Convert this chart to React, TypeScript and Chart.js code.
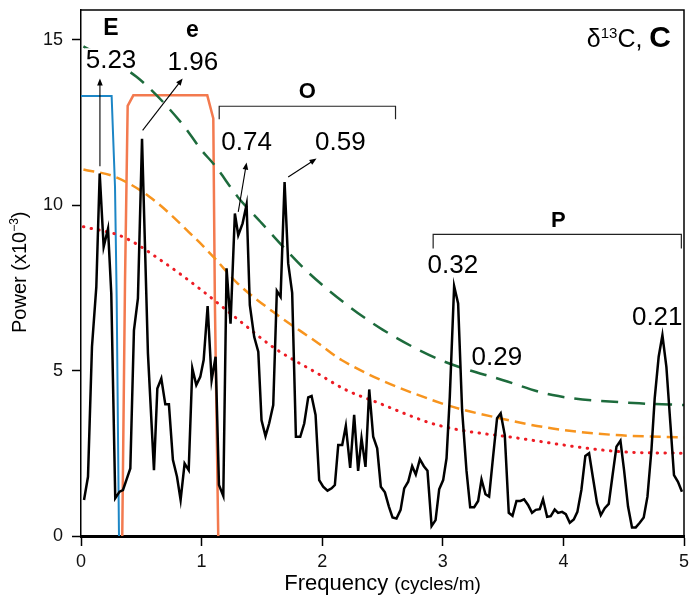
import React, { useEffect, useRef } from "react";
import { Chart, registerables } from "chart.js";

Chart.register(...registerables);

const FONT = '"Liberation Sans", Arial, Helvetica, sans-serif';

// ---- Spectrum (black line) ----
const frequency = [
  0.025, 0.058, 0.091, 0.127, 0.155, 0.188, 0.224, 0.251, 0.284, 0.32, 0.348, 0.376, 0.409, 0.439, 0.472,
  0.506, 0.555, 0.605, 0.633, 0.666, 0.699, 0.729, 0.762, 0.796, 0.826, 0.859, 0.893, 0.923, 0.956, 0.989,
  1.017, 1.05, 1.083, 1.116, 1.144, 1.18, 1.207, 1.24, 1.276, 1.304, 1.34, 1.373, 1.4, 1.436, 1.47,
  1.497, 1.53, 1.56, 1.594, 1.624, 1.655, 1.688, 1.718, 1.751, 1.782, 1.818, 1.851, 1.884, 1.912, 1.945,
  1.975, 2.008, 2.044, 2.078, 2.105, 2.133, 2.166, 2.196, 2.232, 2.265, 2.298, 2.326, 2.359, 2.39, 2.423,
  2.456, 2.486, 2.52, 2.553, 2.583, 2.616, 2.65, 2.68, 2.713, 2.746, 2.776, 2.81, 2.843, 2.873, 2.907,
  2.94, 2.97, 3.003, 3.031, 3.058, 3.094, 3.127, 3.16, 3.196, 3.227, 3.26, 3.293, 3.321, 3.354, 3.384,
  3.417, 3.45, 3.48, 3.514, 3.547, 3.578, 3.611, 3.644, 3.674, 3.707, 3.74, 3.771, 3.804, 3.831, 3.865,
  3.895, 3.928, 3.956, 3.989, 4.02, 4.053, 4.086, 4.116, 4.149, 4.182, 4.213, 4.246, 4.279, 4.31, 4.343,
  4.376, 4.406, 4.44, 4.473, 4.503, 4.536, 4.569, 4.6, 4.633, 4.666, 4.697, 4.73, 4.757, 4.79, 4.821,
  4.854, 4.887, 4.917, 4.95, 4.983,
];
const power = [
  1.09, 1.79, 5.72, 7.53, 10.96, 8.74, 9.29, 7.33, 1.14, 1.34, 1.39, 1.69, 2.04, 6.22, 7.18,
  12.01, 5.52, 1.99, 4.46, 4.76, 3.98, 3.98, 2.3, 1.79, 1.09, 2.19, 1.99, 5.07, 4.56, 4.81,
  5.32, 6.95, 4.71, 5.42, 1.54, 1.21, 8.09, 6.42, 9.75, 9.09, 9.45, 10.02, 6.98, 6.02, 5.57,
  3.5, 3.02, 3.4, 3.96, 7.41, 7.23, 10.7, 8.24, 7.35, 3.0, 3.0, 3.4, 4.19, 4.23, 3.66,
  1.69, 1.49, 1.37, 1.44, 1.54, 2.75, 2.75, 3.33, 2.06, 3.66, 1.97, 2.95, 2.09, 4.43, 3.0,
  2.65, 1.49, 1.32, 0.89, 0.56, 0.53, 0.79, 1.44, 1.64, 2.11, 1.86, 2.32, 2.11, 1.97, 0.3,
  0.48, 1.41, 1.69, 2.35, 4.21, 7.55, 7.03, 3.81, 1.99, 0.87, 0.87, 1.06, 1.71, 1.26, 1.19,
  2.4, 3.56, 3.71, 3.05, 0.7, 0.61, 1.06, 1.06, 1.11, 0.94, 0.7, 0.79, 0.81, 1.11, 0.58,
  0.6, 0.8, 0.7, 0.73, 0.66, 0.4, 0.5, 0.73, 1.39, 2.42, 2.5, 1.74, 0.99, 0.63, 0.84,
  0.97, 1.79, 2.7, 2.88, 1.99, 0.89, 0.26, 0.26, 0.4, 0.56, 1.19, 2.6, 4.16, 5.42, 6.07,
  5.11, 3.4, 1.84, 1.64, 1.34,
];

// ---- Confidence levels ----
const greenFreq = [0.02, 0.46, 0.83, 1.0, 1.11, 1.3, 1.5, 1.69, 1.88, 2.19, 2.5, 2.98, 3.5, 3.91, 4.63, 5.0];
const greenPower = [14.8, 13.88, 12.5, 11.66, 11.2, 10.25, 9.45, 8.69, 7.98, 7.03, 6.24, 5.32, 4.71, 4.26, 4.01, 3.96];
const orangeFreq = [0.02, 0.28, 0.57, 0.95, 1.11, 1.3, 1.61, 1.97, 2.16, 2.99, 3.47, 3.91, 4.44, 5.0];
const orangePower = [11.08, 10.86, 10.25, 8.99, 8.39, 7.63, 6.73, 5.82, 5.32, 4.01, 3.56, 3.25, 3.05, 2.98];
const redFreq = [0.02, 0.35, 0.68, 1.0, 1.3, 1.6, 1.94, 2.2, 2.44, 2.96, 3.64, 4.47, 5.0];
const redPower = [9.35, 9.04, 8.29, 7.43, 6.55, 5.69, 4.96, 4.41, 4.06, 3.35, 2.95, 2.55, 2.5];

// ---- Filters ----
const filterEFreq = [0, 0.254, 0.282, 0.296, 0.315];
const filterEPower = [13.3, 13.3, 10.55, 7.13, 0];
const filterSmallEFreq = [0.342, 0.365, 0.387, 0.434, 1.047, 1.097, 1.11, 1.138];
const filterSmallEPower = [0, 7.7, 13.0, 13.32, 13.32, 12.62, 7.1, 0];

// ---- Annotations (data units) ----
const periodTexts = ["5.23", "1.96", "0.74", "0.59", "0.32", "0.29", "0.21"];
const periodFreq = [0.249, 0.928, 1.373, 2.151, 3.083, 3.448, 4.778];
const periodPower = [14.14, 14.08, 11.66, 11.66, 7.95, 5.17, 6.37];

const bandTexts = ["E", "e", "O", "P"];
const bandFreq = [0.249, 0.924, 1.877, 3.957];
const bandPower = [15.14, 15.09, 13.23, 9.34];

const arrowFrom = [[0.157, 11.18], [0.511, 12.26], [1.304, 9.8], [1.718, 10.85]];
const arrowTo = [[0.157, 13.83], [0.843, 13.83], [1.373, 11.29], [1.953, 11.41]];

const bracketFrom = [1.146, 2.92];
const bracketTo = [2.608, 4.978];
const bracketLevel = [12.99, 9.12];
const bracketEnd = [12.6, 8.69];

const pts = (xs: number[], ys: number[]) => xs.map((x, i) => ({ x, y: ys[i] }));

const annotPlugin = {
  id: "annot",
  afterDatasetsDraw(chart: any) {
    const { ctx, scales } = chart;
    const X = scales.x;
    const Y = scales.y;
    ctx.save();
    // brackets
    ctx.strokeStyle = "#222";
    ctx.lineWidth = 1.2;
    bracketFrom.forEach((f, i) => {
      const x1 = X.getPixelForValue(f);
      const x2 = X.getPixelForValue(bracketTo[i]);
      const yl = Y.getPixelForValue(bracketLevel[i]);
      const ye = Y.getPixelForValue(bracketEnd[i]);
      ctx.beginPath();
      ctx.moveTo(x1, ye);
      ctx.lineTo(x1, yl);
      ctx.lineTo(x2, yl);
      ctx.lineTo(x2, ye);
      ctx.stroke();
    });
    // arrows
    ctx.fillStyle = "#000";
    ctx.strokeStyle = "#000";
    ctx.lineWidth = 1.1;
    arrowFrom.forEach((a, i) => {
      const x1 = X.getPixelForValue(a[0]);
      const y1 = Y.getPixelForValue(a[1]);
      const x2 = X.getPixelForValue(arrowTo[i][0]);
      const y2 = Y.getPixelForValue(arrowTo[i][1]);
      const ang = Math.atan2(y2 - y1, x2 - x1);
      const L = 7;
      const W = 2.8;
      const c = Math.cos(ang);
      const s = Math.sin(ang);
      ctx.beginPath();
      ctx.moveTo(x1, y1);
      ctx.lineTo(x2 - L * 0.7 * c, y2 - L * 0.7 * s);
      ctx.stroke();
      ctx.beginPath();
      ctx.moveTo(x2, y2);
      ctx.lineTo(x2 - L * c - W * s, y2 - L * s + W * c);
      ctx.lineTo(x2 - L * c + W * s, y2 - L * s - W * c);
      ctx.closePath();
      ctx.fill();
    });
    // period labels with white background
    ctx.textAlign = "center";
    ctx.textBaseline = "alphabetic";
    ctx.font = `26px ${FONT}`;
    periodTexts.forEach((t, i) => {
      const px = X.getPixelForValue(periodFreq[i]);
      const py = Y.getPixelForValue(periodPower[i]);
      const w = ctx.measureText(t).width;
      ctx.fillStyle = "#fff";
      ctx.fillRect(px - w / 2 - 1, py - 20, w + 2, 21);
      ctx.fillStyle = "#000";
      ctx.fillText(t, px, py);
    });
    bandTexts.forEach((t, i) => {
      const px = X.getPixelForValue(bandFreq[i]);
      const py = Y.getPixelForValue(bandPower[i]);
      ctx.font = `bold ${i < 2 ? 23 : 22}px ${FONT}`;
      ctx.fillStyle = "#000";
      ctx.fillText(t, px, py);
    });
    ctx.restore();
  },
  afterDraw(chart: any) {
    const { ctx, chartArea } = chart;
    const { left, right, top, bottom } = chartArea;
    ctx.save();
    // frame (top & right)
    ctx.strokeStyle = "#000";
    ctx.lineWidth = 1.5;
    ctx.beginPath();
    ctx.moveTo(left, top);
    ctx.lineTo(right, top);
    ctx.lineTo(right, bottom);
    ctx.stroke();

    ctx.fillStyle = "#000";
    ctx.textBaseline = "alphabetic";
    ctx.textAlign = "left";
    // x title
    const cx = (left + right) / 2;
    ctx.font = `22px ${FONT}`;
    const t1 = "Frequency ";
    const w1 = ctx.measureText(t1).width;
    ctx.font = `19px ${FONT}`;
    const t2 = "(cycles/m)";
    const w2 = ctx.measureText(t2).width;
    const sx = cx - (w1 + w2) / 2;
    ctx.font = `22px ${FONT}`;
    ctx.fillText(t1, sx, 590);
    ctx.font = `19px ${FONT}`;
    ctx.fillText(t2, sx + w1, 590);

    // y title (rotated)
    ctx.save();
    ctx.translate(26, 333);
    ctx.rotate(-Math.PI / 2);
    ctx.font = `20px ${FONT}`;
    const a = "Power (x10";
    ctx.fillText(a, 0, 0);
    let off = ctx.measureText(a).width;
    ctx.font = `12px ${FONT}`;
    ctx.fillText("\u22123", off, -8);
    off += ctx.measureText("\u22123").width;
    ctx.font = `20px ${FONT}`;
    ctx.fillText(")", off, 0);
    ctx.restore();

    // panel title, right-aligned
    const parts = [
      { t: "C", f: `bold 30px ${FONT}`, dy: 0 },
      { t: " ", f: `25px ${FONT}`, dy: 0 },
      { t: "C,", f: `25px ${FONT}`, dy: 0 },
      { t: "13", f: `15px ${FONT}`, dy: -9 },
      { t: "\u03B4", f: `25px ${FONT}`, dy: 0 },
    ];
    let rx = 671;
    parts.forEach((p) => {
      ctx.font = p.f;
      const w = ctx.measureText(p.t).width;
      rx -= w;
      ctx.fillText(p.t, rx, 47 + p.dy);
    });
    ctx.restore();
  },
};

export default function App() {
  const ref = useRef<HTMLCanvasElement>(null);
  useEffect(() => {
    if (!ref.current) return;
    const chart = new Chart(ref.current, {
      type: "line",
      data: {
        datasets: [
          {
            data: pts(frequency, power),
            borderColor: "#000",
            borderWidth: 2.5,
            tension: 0,
          },
          {
            data: pts(greenFreq, greenPower),
            borderColor: "#1d6b3c",
            borderWidth: 2.5,
            borderDash: [17, 10],
            cubicInterpolationMode: "monotone",
          },
          {
            data: pts(orangeFreq, orangePower),
            borderColor: "#f7941e",
            borderWidth: 2.5,
            borderDash: [11, 6],
            cubicInterpolationMode: "monotone",
          },
          {
            data: pts(redFreq, redPower),
            borderColor: "#ed1c24",
            borderWidth: 3,
            borderDash: [0.5, 7.3],
            borderCapStyle: "round",
            cubicInterpolationMode: "monotone",
          },
          {
            data: pts(filterSmallEFreq, filterSmallEPower),
            borderColor: "#f37a4f",
            borderWidth: 2.5,
            tension: 0,
          },
          {
            data: pts(filterEFreq, filterEPower),
            borderColor: "#1c86c6",
            borderWidth: 2,
            tension: 0,
          },
        ] as any,
      },
      options: {
        animation: false,
        responsive: false,
        layout: { padding: { left: 0, top: 10, right: 8, bottom: 0 } },
        plugins: { legend: { display: false }, tooltip: { enabled: false } },
        elements: { point: { radius: 0 } },
        scales: {
          x: {
            type: "linear",
            min: 0,
            max: 5,
            afterFit: (s: any) => {
              s.height = 65;
              s.paddingLeft = 0;
              s.paddingRight = 0;
            },
            ticks: {
              stepSize: 1,
              includeBounds: false,
              maxRotation: 0,
              padding: 5,
              color: "#111",
              font: { family: FONT, size: 18 },
            },
            grid: {
              drawOnChartArea: false,
              drawTicks: true,
              tickLength: 10,
              color: "#000",
              tickColor: "#000",
              tickWidth: 1.5,
            },
            border: { display: true, color: "#000", width: 3 },
          },
          y: {
            type: "linear",
            min: 0,
            max: 15.9,
            afterFit: (s: any) => {
              s.width = 81;
              s.paddingTop = 0;
              s.paddingBottom = 0;
            },
            ticks: {
              stepSize: 5,
              includeBounds: false,
              padding: 9,
              color: "#111",
              font: { family: FONT, size: 18 },
            },
            grid: {
              drawOnChartArea: false,
              drawTicks: true,
              tickLength: 9,
              color: "#000",
              tickColor: "#000",
              tickWidth: 1.5,
            },
            border: { display: true, color: "#000", width: 1.5 },
          },
        },
      } as any,
      plugins: [annotPlugin],
    });
    return () => chart.destroy();
  }, []);
  return (
    <div style={{ position: "fixed", left: 0, top: 0, width: 692, height: 601, background: "#fff" }}>
      <canvas ref={ref} width={692} height={601} style={{ width: 692, height: 601, display: "block" }} />
    </div>
  );
}
